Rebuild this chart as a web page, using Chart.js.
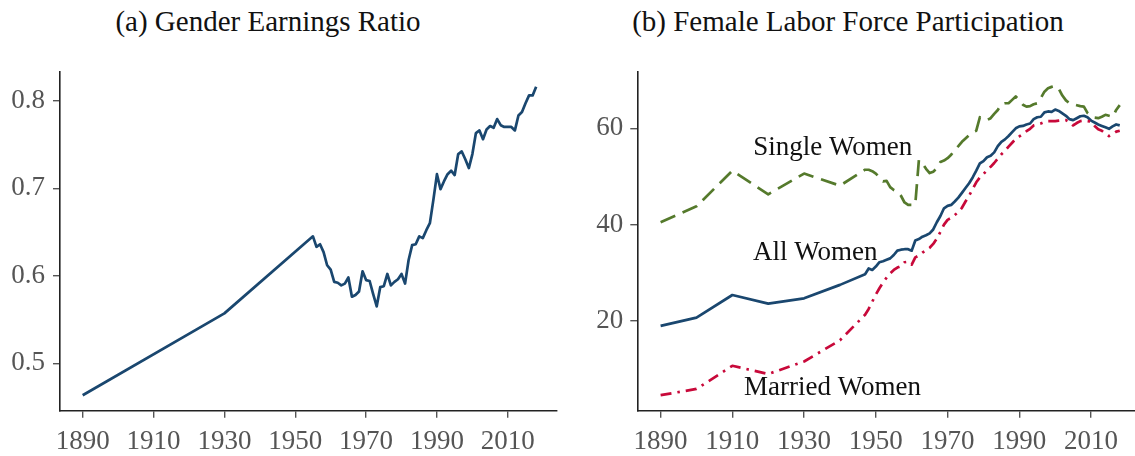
<!DOCTYPE html>
<html><head><meta charset="utf-8">
<script src="https://cdn.jsdelivr.net/npm/chart.js@4.4.0/dist/chart.umd.min.js"></script>
<style>
html,body{margin:0;padding:0;background:#fff;width:1135px;height:456px;overflow:hidden;}
#wrap{position:relative;width:1135px;height:456px;}
canvas{position:absolute;top:0;}
.title{position:absolute;top:0;font-family:"Liberation Serif","Times New Roman",serif;font-size:29px;color:#111;white-space:nowrap;transform:translateX(-50%);line-height:42px;}
</style></head>
<body><div id="wrap">
<div class="title" style="left:268px">(a) Gender Earnings Ratio</div>
<div class="title" style="left:848px">(b) Female Labor Force Participation</div>
<canvas id="c1" width="570" height="456" style="left:0"></canvas>
<canvas id="c2" width="565" height="456" style="left:570px"></canvas>
</div>
<script>
// ---- Panel (a): gender earnings ratio ----
const earnYears = [1890, 1930,
  1955,1956,1957,1958,1959,1960,1961,1962,1963,1964,
  1965,1966,1967,1968,1969,1970,1971,1972,1973,1974,
  1975,1976,1977,1978,1979,1980,1981,1982,1983,1984,
  1985,1986,1987,1988,1989,1990,1991,1992,1993,1994,
  1995,1996,1997,1998,1999,2000,2001,2002,2003,2004,
  2005,2006,2007,2008,2009,2010,2011,2012,2013,2014,
  2015,2016,2017,2018];
const earnRatio = [0.4635, 0.557,
  0.645,0.633,0.636,0.627,0.612,0.607,0.593,0.592,0.589,0.591,
  0.598,0.576,0.578,0.582,0.605,0.595,0.594,0.579,0.565,0.587,
  0.588,0.602,0.589,0.593,0.596,0.602,0.591,0.618,0.635,0.636,
  0.645,0.643,0.652,0.660,0.687,0.716,0.699,0.708,0.716,0.720,
  0.715,0.739,0.742,0.733,0.723,0.739,0.763,0.766,0.756,0.767,
  0.771,0.769,0.779,0.772,0.770,0.770,0.770,0.766,0.783,0.787,
  0.797,0.806,0.806,0.816];
const earnXTicks = [1890,1910,1930,1950,1970,1990,2010];
const earnYTicks = [0.5,0.6,0.7,0.8];

// ---- Panel (b): female labor force participation (%) ----
const lfpYears = [1890,1900,1910,1920,1930,1940,
  1947,1948,1949,1950,1951,1952,1953,1954,1955,1956,
  1957,1958,1959,1960,1961,1962,1963,1964,1965,1966,
  1967,1968,1969,1970,1971,1972,1973,1974,1975,1976,
  1977,1978,1979,1980,1981,1982,1983,1984,1985,1986,
  1987,1988,1989,1990,1991,1992,1993,1994,1995,1996,
  1997,1998,1999,2000,2001,2002,2003,2004,2005,2006,
  2007,2008,2009,2010,2011,2012,2013,2014,2015,2016,
  2017,2018];
const allWomen = [19.0,20.7,25.4,23.6,24.7,27.5,
  29.7,30.9,30.6,31.3,32.2,32.4,32.7,33.0,33.7,34.6,
  34.8,34.9,34.9,34.6,36.7,37.0,37.5,37.8,38.2,39.0,
  40.5,41.8,43.4,43.9,44.1,44.8,45.6,46.6,47.6,48.6,
  49.8,51.2,52.7,53.2,54.0,54.3,55.0,56.3,57.2,57.7,
  58.4,59.2,60.0,60.4,60.5,60.8,61.0,61.9,62.3,62.4,
  63.3,63.5,63.4,63.9,63.6,63.1,62.6,61.9,61.7,62.1,
  62.5,62.6,62.3,61.6,61.2,60.8,60.5,60.2,59.9,60.4,
  60.8,60.6];
const marriedWomen = [4.6,5.9,10.7,9.0,11.6,16.0,
  21.3,22.5,24.0,25.5,26.8,28.0,29.0,29.9,30.6,31.1,
  31.4,32.2,32.3,31.7,33.2,33.6,34.2,34.7,35.2,36.0,
  37.1,38.5,40.0,41.0,41.4,42.0,42.6,43.5,44.8,46.0,
  47.4,48.8,49.8,50.5,51.3,52.0,52.8,53.7,54.6,55.3,
  56.2,57.0,57.8,58.3,58.8,59.4,59.9,60.6,60.8,61.0,
  61.3,61.5,61.5,61.5,61.6,61.7,61.7,61.3,60.6,61.1,
  61.5,61.6,61.5,61.4,60.5,59.8,59.5,58.9,58.4,58.8,
  59.3,59.5];
const singleWomen = [40.5,43.8,51.2,46.3,50.6,48.1,
  51.4,51.4,51.1,50.6,49.8,49.0,49.1,47.8,47.2,46.8,
  46.0,44.6,44.1,44.1,44.3,53.4,52.7,51.6,50.7,51.0,
  51.7,53.0,53.3,53.8,54.5,55.5,56.3,57.2,57.9,58.6,
  59.2,59.5,62.3,62.0,61.7,62.1,63.0,63.8,65.0,65.2,
  65.2,65.9,66.6,65.8,64.9,64.5,64.6,65.0,65.2,66.3,
  67.6,68.3,68.6,68.8,68.2,66.8,65.8,65.2,65.0,64.8,
  64.6,64.5,63.2,62.6,62.2,62.1,62.4,62.8,62.6,62.4,
  63.8,64.8];
const lfpXTicks = [1890,1910,1930,1950,1970,1990,2010];
const lfpYTicks = [20,40,60];
const seriesNames = ['All Women','Married Women','Single Women'];

// ---- rendering ----
const FONT = '"Liberation Serif", "Times New Roman", serif';
const pts = (xs, ys) => xs.map((x, i) => ({x: x, y: ys[i]}));

function xAxis(min, max, tickVals) {
  return {
    type: 'linear', position: 'bottom', min: min, max: max,
    afterBuildTicks: s => { s.ticks = tickVals.map(v => ({value: v})); },
    afterFit: s => { s.height = 45.3; },
    ticks: {callback: v => String(v), font: {family: FONT, size: 27}, color: '#555',
            padding: 8, maxRotation: 0, autoSkip: false},
    grid: {drawOnChartArea: false, drawTicks: true, tickLength: 7, color: '#555', lineWidth: 1.4},
    border: {display: true, color: '#222', width: 1.6}
  };
}
function yAxis(min, max, tickVals, width, pad) {
  return {
    type: 'linear', position: 'left', min: min, max: max,
    afterBuildTicks: s => { s.ticks = tickVals.map(v => ({value: v})); },
    afterFit: s => { s.width = width; },
    ticks: {callback: v => String(v), font: {family: FONT, size: 27}, color: '#555', padding: pad},
    grid: {drawOnChartArea: false, drawTicks: true, tickLength: 7, color: '#555', lineWidth: 1.4},
    border: {display: true, color: '#222', width: 1.6}
  };
}

const labelPlugin = {
  id: 'seriesLabels',
  afterDatasetsDraw(chart, args, opts) {
    if (!opts || !opts.items) return;
    const ctx = chart.ctx, xs = chart.scales.x, ys = chart.scales.y;
    ctx.save();
    ctx.font = '27px ' + FONT;
    ctx.fillStyle = '#111';
    ctx.textAlign = 'center';
    ctx.textBaseline = 'middle';
    for (const it of opts.items) {
      ctx.fillText(it.text, xs.getPixelForValue(it.x), ys.getPixelForValue(it.y));
    }
    ctx.restore();
  }
};

const common = {
  responsive: false, animation: false, devicePixelRatio: 1,
  elements: {point: {radius: 0, hoverRadius: 0}, line: {tension: 0, borderJoinStyle: 'round'}},
};

new Chart(document.getElementById('c1'), {
  type: 'line',
  data: {datasets: [{label: 'Gender Earnings Ratio', data: pts(earnYears, earnRatio),
    borderColor: '#1a476f', borderWidth: 2.7, fill: false}]},
  options: Object.assign({}, common, {
    layout: {padding: {left: 0, top: 71.7, right: 13.3, bottom: 0}},
    plugins: {legend: {display: false}, tooltip: {enabled: false}, title: {display: false}},
    scales: {x: xAxis(1883.6, 2023.8, earnXTicks), y: yAxis(0.4458, 0.8331, earnYTicks, 60, 8)}
  })
});

new Chart(document.getElementById('c2'), {
  type: 'line',
  data: {datasets: [
    {label: seriesNames[2], data: pts(lfpYears, singleWomen), borderColor: '#557a2c', borderWidth: 2.7,
     borderDash: [16, 8], fill: false},
    {label: seriesNames[1], data: pts(lfpYears, marriedWomen), borderColor: '#c8093a', borderWidth: 2.7,
     borderDash: [11, 6, 2.5, 6], fill: false},
    {label: seriesNames[0], data: pts(lfpYears, allWomen), borderColor: '#1a476f', borderWidth: 2.7, fill: false}
  ]},
  plugins: [labelPlugin],
  options: Object.assign({}, common, {
    layout: {padding: {left: 0, top: 71.7, right: 0, bottom: 0}},
    plugins: {legend: {display: false}, tooltip: {enabled: false}, title: {display: false},
      seriesLabels: {items: [
        {text: seriesNames[2], x: 1938.0, y: 56.0},
        {text: seriesNames[0], x: 1933.1, y: 34.05},
        {text: seriesNames[1], x: 1937.9, y: 6.03}
      ]}},
    scales: {x: xAxis(1883.5, 2022.25, lfpXTicks), y: yAxis(1.38, 71.75, lfpYTicks, 67.3, 7)}
  })
});
</script>
</body></html>
